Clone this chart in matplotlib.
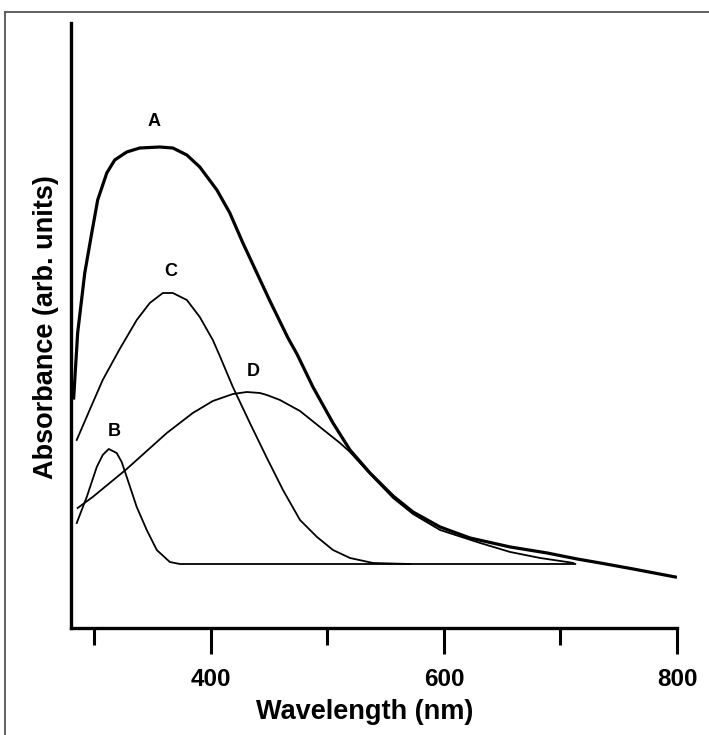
import matplotlib
matplotlib.use("Agg")
import matplotlib.pyplot as plt
from matplotlib.lines import Line2D
from matplotlib.ticker import FixedLocator

plt.rcParams['font.family'] = ['Liberation Sans', 'DejaVu Sans']

# ---- data ----
wl_A = [282.3, 285.7, 291.8, 297.8, 302.9, 310.7, 317.5, 327.8, 339.0, 356.2, 367.4,
        379.4, 390.5, 405.2, 416.3, 427.5, 439.5, 450.7, 466.2, 473.9, 487.6, 504.8,
        519.4, 536.6, 556.4, 573.5, 596.7, 622.5, 656.9, 688.7, 714.4, 734.2, 762.5, 798.6]
abs_A = [2.30, 2.95, 3.55, 3.95, 4.28, 4.55, 4.68, 4.76, 4.80, 4.81, 4.80,
         4.73, 4.61, 4.38, 4.15, 3.85, 3.55, 3.27, 2.90, 2.74, 2.41, 2.05,
         1.78, 1.55, 1.32, 1.16, 1.01, 0.90, 0.81, 0.75, 0.69, 0.65, 0.59, 0.51]

wl_B = [284.9, 293.5, 302.1, 307.2, 312.4, 319.2, 323.5, 328.7, 336.4, 345.0, 353.6,
        364.8, 373.4, 712.7]
abs_B = [1.05, 1.31, 1.61, 1.73, 1.79, 1.75, 1.66, 1.48, 1.21, 0.98, 0.78,
         0.66, 0.64, 0.64]

wl_C = [284.9, 296.0, 307.2, 321.8, 336.4, 347.6, 358.8, 367.4, 379.4, 390.5, 401.7,
        407.7, 418.9, 433.5, 448.1, 461.9, 476.5, 491.1, 504.8, 519.4, 539.2, 571.0]
abs_C = [1.88, 2.18, 2.48, 2.79, 3.08, 3.25, 3.35, 3.35, 3.28, 3.11, 2.88,
         2.72, 2.41, 2.05, 1.70, 1.38, 1.08, 0.91, 0.78, 0.70, 0.65, 0.64]

wl_D = [285.7, 298.6, 313.2, 327.8, 345.0, 362.2, 384.5, 401.7, 418.9, 430.9, 442.1,
        448.1, 459.3, 476.5, 493.6, 510.8, 519.4, 536.6, 556.4, 573.5, 596.7, 631.1,
        656.9, 682.6, 705.8, 711.0]
abs_D = [1.20, 1.31, 1.45, 1.59, 1.77, 1.95, 2.15, 2.27, 2.34, 2.36, 2.35,
         2.33, 2.28, 2.17, 2.01, 1.85, 1.76, 1.54, 1.30, 1.14, 0.98, 0.85,
         0.76, 0.70, 0.66, 0.65]

curve_labels = ['A', 'B', 'C', 'D']
label_wl = [351.3, 317.5, 365.6, 436.1]
label_abs = [5.06, 1.96, 3.56, 2.56]

major_ticks = [400, 600, 800]
minor_ticks = [300, 500, 700]

# ---- figure ----
W, H = 709, 735
fig = plt.figure(figsize=(W / 100, H / 100), dpi=100)
ax = fig.add_axes([71 / W, (H - 628) / H, (677 - 71) / W, (628 - 23) / H])

ax.plot(wl_A, abs_A, color='black', lw=2.3, solid_joinstyle='round')
ax.plot(wl_B, abs_B, color='black', lw=1.3, solid_joinstyle='round')
ax.plot(wl_C, abs_C, color='black', lw=1.3, solid_joinstyle='round')
ax.plot(wl_D, abs_D, color='black', lw=1.3, solid_joinstyle='round')

for t, x, y in zip(curve_labels, label_wl, label_abs):
    ax.text(x, y, t, ha='center', va='center', fontsize=13, fontweight='bold')

ax.set_xlim(280, 800)
ax.set_ylim(0, 6.05)

for s in ['top', 'right']:
    ax.spines[s].set_visible(False)
for s in ['left', 'bottom']:
    ax.spines[s].set_linewidth(2.4)

ax.xaxis.set_major_locator(FixedLocator(major_ticks))
ax.xaxis.set_minor_locator(FixedLocator(minor_ticks))
ax.set_yticks([])
ax.tick_params(axis='x', which='major', direction='out', length=19, width=2.2,
               labelsize=17.5, pad=10)
ax.tick_params(axis='x', which='minor', direction='out', length=12, width=2.2)
for lab in ax.get_xticklabels():
    lab.set_fontweight('bold')

ax.set_xlabel('Wavelength (nm)', fontsize=19.5, fontweight='bold')
ax.xaxis.set_label_coords(0.485, -0.118)
ax.set_ylabel('Absorbance (arb. units)', fontsize=19.5, fontweight='bold')
ax.yaxis.set_label_coords(-0.02, 0.497)

# outer gray frame (top and left edges visible)
fig.add_artist(Line2D([5 / W, 1.0], [1 - 12 / H, 1 - 12 / H], transform=fig.transFigure,
                      color='#555555', lw=1.3))
fig.add_artist(Line2D([5 / W, 5 / W], [0.0, 1 - 12 / H], transform=fig.transFigure,
                      color='#555555', lw=1.3))

fig.savefig('out.png', dpi=100)
